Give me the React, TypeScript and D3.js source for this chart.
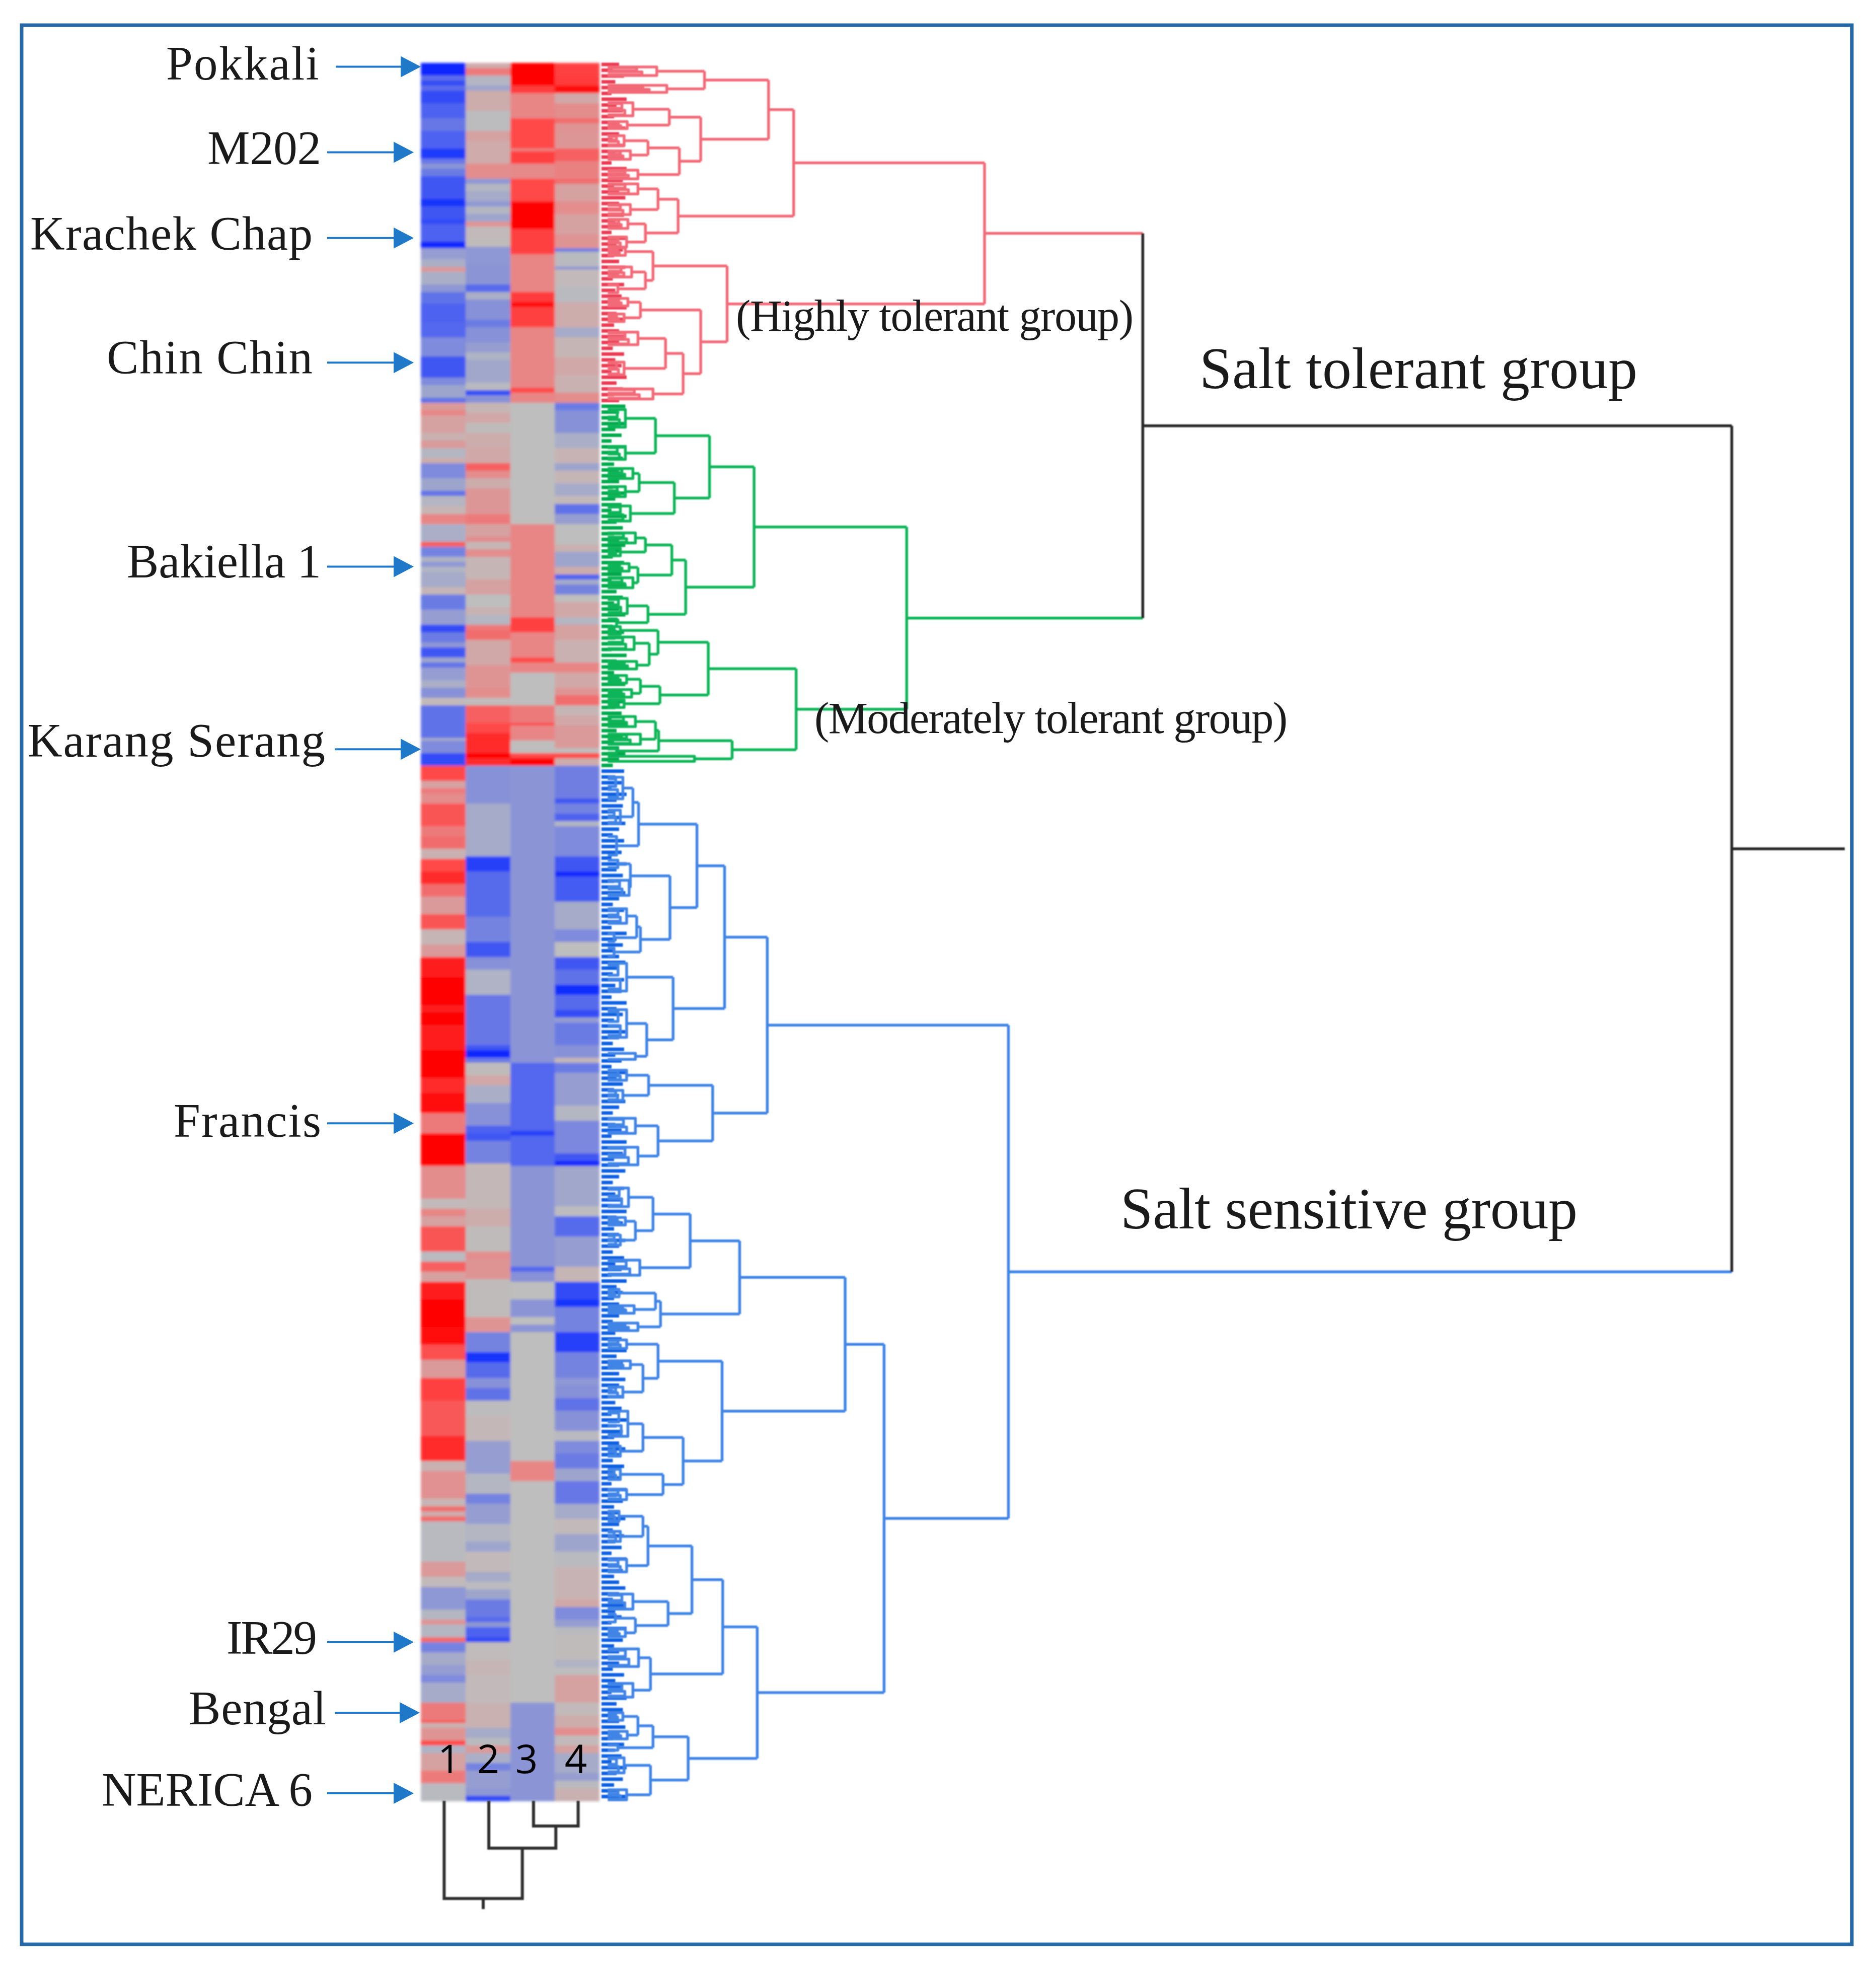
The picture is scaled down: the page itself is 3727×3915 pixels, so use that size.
import * as d3 from "d3";
import React, { useEffect, useRef } from "react";

const WIDTH = 3727;
const HEIGHT = 3915;
const ROW_COUNT = 690;

// heatmap columns: [last row of the run, value from -1 (blue) to 1 (red)]
const column1: [number, number][] = [
  [5, -1], [7, -0.68], [9, -0.85], [11, -0.68], [16, -0.85], [22, -0.75], [27, -0.62], [34, -0.75], [38, -0.92], [40, -0.62], [42, -0.42], [45, -0.6],
  [54, -0.8], [57, -0.95], [62, -0.8], [64, -0.85], [71, -0.75], [73.5, -1], [78, -0.35], [81, -0.2], [83, 0.35], [88, -0.2], [91, -0.4], [95.5, -0.65],
  [103, -0.75], [109, -0.72], [116.5, -0.5], [125, -0.8], [128, -0.5], [133, -0.3], [135, -0.65],
  [138, 0.35], [140, 0.5], [147, 0.3], [150, 0.15], [153, 0.35], [157, -0.1], [159, 0.2], [165, -0.5], [170, -0.3], [172, -0.65], [176, -0.1], [179, 0.1],
  [183, 0.5], [190, -0.2], [192, 0.65], [196, -0.55], [198, -0.15], [200, -0.4], [202, -0.1], [208, -0.25], [211, 0.1], [217, -0.6], [223, -0.35], [226, -0.85],
  [230, -0.6], [232, -0.4], [236, -0.8], [238, -0.3], [240, -0.65], [245, -0.35], [248, -0.2], [252, -0.45], [255, 0.05], [268, -0.65], [269, -0.2], [274, -0.5], [279, -0.85],
  [285, 0.75], [288, 0.3], [290, 0.55], [294, 0.45], [303, 0.7], [307, 0.55], [312, 0.6], [316, 0.15], [321, 0.75], [326, 0.85], [331, 0.6], [338, 0.35],
  [344, 0.7], [350, 0.1], [355, 0.35], [363, 0.9], [374, 1], [377, 0.9], [382, 1], [392, 0.9], [403, 1], [409, 0.85], [417, 0.95], [425, 0.55], [438, 0.98], [451, 0.45], [455, 0.05],
  [458, 0.5], [462, 0.3], [472, 0.7], [476, -0.05], [480, 0.65], [484, 0.3], [491, 0.9], [502, 1], [509, 0.97], [515, 0.72], [522, 0.35], [531, 0.78], [545, 0.68], [555, 0.85],
  [559, 0.15], [570, 0.42], [573, 0.1], [575, 0.6], [577, 0.2], [579, 0.6], [595, -0.05], [601, 0.35], [605, 0.05], [614, -0.4], [618, -0.1], [620, 0.4], [625, -0.1],
  [627, 0.6], [631, -0.55], [636, -0.25], [640, -0.35], [643, -0.5], [651, -0.25], [658, 0.55], [659, 0.7], [661, 0.15], [666, 0.4], [668, 0.75], [671, -0.15], [678, 0.3], [683, 0.55], [690, -0.05],
];

const column2: [number, number][] = [
  [2, 0.2], [5, 0.55], [9, -0.1], [11, -0.3], [19, 0.2], [27, -0.02], [31, 0.3], [40, 0.22], [46, 0.45], [48, -0.4], [51, -0.1], [55, -0.25], [57, -0.4], [60, -0.1],
  [63, -0.3], [65, 0.4], [70, 0.05], [73, 0.03], [80, -0.4], [88, -0.42], [91, -0.7], [94, -0.2], [102, -0.45], [105, -0.6], [111, -0.45], [115, -0.35], [118, -0.15], [127, -0.28], [130, -0.05], [132, -0.85], [135, -0.45],
  [139, 0.1], [143, 0.25], [147, 0.03], [153, 0.2], [159, 0.25], [162, 0.65], [165, 0.45], [169, 0.2], [179, 0.38], [183, 0.55], [188, 0.3], [190, 0.45], [193, 0.1], [196, 0.45],
  [205, 0.1], [211, 0.3], [216, 0], [219, 0.15], [223, -0.1], [225, 0.55], [229, 0.6], [239, 0.25], [248, 0.4], [252, 0.45], [255, 0.02], [262, 0.65], [266, 0.75], [274, 0.85], [276, 1], [279, 0.85],
  [294, -0.45], [315, -0.25], [321, -0.9], [331, -0.7], [339, -0.7], [349, -0.55], [355, -0.8], [360, -0.45], [370, -0.15], [390, -0.62], [392, -0.8], [395, -1], [397, -0.6],
  [402, 0.03], [406, 0.25], [413, -0.2], [422, -0.45], [425, -0.75], [428, -0.8], [437, -0.55], [455, 0.08],
  [462, 0.2], [472, 0.03], [475, 0.45], [483, 0.4], [498, 0.03], [504, 0.4], [512, -0.55], [516, -0.95], [522, -0.7], [526, -0.45], [531, -0.65], [537, -0.02], [547, 0.08], [560, -0.35],
  [568, -0.1], [572, -0.55], [580, -0.35], [587, -0.1], [591, -0.3], [599, 0.05], [603, -0.25], [606, -0.02], [610, -0.3], [617, -0.6], [619, -0.7], [621, -0.4], [625, -0.75],
  [627, -0.85], [634, 0.02], [640, 0.1], [651, 0.05], [661, 0.15], [665, -0.25], [668, -0.05], [671, 0.35], [675, -0.2], [678, -0.55], [685, -0.35], [688, -0.4], [690, -0.85],
];

const column3: [number, number][] = [
  [9, 1], [12, 0.8], [22, 0.5], [34, 0.75], [35, 0.5], [40, 0.78], [46, 0.48], [55, 0.75], [66, 1], [76, 0.78], [91, 0.5], [95, 0.8], [97, 0.95], [105, 0.78], [129, 0.5], [131, 0.75], [135, 0.5],
  [183, 0], [220, 0.5], [226, 0.78], [236, 0.5], [238, 0.75], [242, 0.5], [255, 0], [262, 0.55], [263, 0.75], [269, 0.5], [274, 0], [276, 0.75], [279, 1],
  [397, -0.42], [424, -0.72], [426, -0.9], [438, -0.72], [478, -0.42], [480, -0.72], [484, -0.45], [491, 0], [498, -0.42], [501, 0], [504, -0.42], [555, 0], [563, 0.5], [651, 0], [690, -0.42],
];

const column4: [number, number][] = [
  [5.5, 0.78], [9, 0.8], [12, 0.95], [16, 0.25], [22, 0.45], [24, 0.6], [28, 0.4], [34, 0.38], [39, 0.65], [46, 0.52], [48, 0.6], [55, 0.3], [60, 0.45], [68, 0.3], [73.5, 0.4], [75, -0.6],
  [81, -0.05], [82, -0.45], [89, 0.05], [95, -0.05], [105, 0.2], [109, -0.25], [117, 0.1], [124, 0.25], [131, 0.15], [135, 0.45],
  [138, -0.6], [147, -0.45], [153, -0.2], [159, 0.12], [162, -0.3], [167, 0.1], [172, -0.25], [175, 0.05], [179, -0.65], [183, -0.35], [191, 0], [194, 0.15], [200, -0.3], [203, 0.2], [205, -0.75],
  [207, -0.25], [211, -0.55], [214, 0], [220, 0.25], [223, -0.1], [229, 0.3], [238, 0.15], [242, 0.5], [248, 0.25], [251, 0.4], [255, 0.6], [259, 0.1], [263, 0.25], [272, 0.35], [274, 0.03], [276, 0.75], [279, 0.2],
  [292, -0.58], [294, -0.8], [298, -0.55], [301, -0.75], [303, -0.1], [315, -0.5], [321, -0.8], [323, -1], [333, -0.78], [344, -0.25], [349, -0.5], [355, 0], [360, -0.8], [366, -0.65], [370, -0.98],
  [376, -0.7], [379, -0.85], [381, -0.35], [390, -0.6], [395, -0.45], [397, 0.08], [401, -0.6], [414, -0.35], [420, -0.1], [433, -0.52], [436, -0.8], [438, -1], [454, -0.28], [458, -0.02],
  [466, -0.7], [478, -0.35], [484, 0.1], [491, -0.85], [494, -0.95], [504, -0.55], [512, -0.9], [522, -0.55], [525, -0.4], [530, -0.45], [535, -0.65], [543, -0.45], [547, -0.05], [552, -0.5], [558, -0.6],
  [563, -0.3], [572, -0.62], [578, -0.25], [584, 0.05], [591, -0.3], [597, -0.05], [610, 0.12], [613, 0.25], [618, -0.5], [621, -0.35], [624, -0.05], [634, 0.03], [637, -0.15], [640, 0], [651, 0.3],
  [656, 0.05], [661, 0.2], [664, 0.45], [668, 0.05], [671, 0.3], [679, -0.25], [682, -0.35], [685, -0.05], [690, 0.15],
];

const columnNames = ["1", "2", "3", "4"];
const heatColumns = [column1, column2, column3, column4];

// row dendrogram: [distance, child, child] or a tuft [distance, row, half span]
type Tree = (number | Tree)[];

const redTree: Tree = [303,
  [151,
    [131,
      [80, [42, 3.3, 1.7], [50, 10.3, 1.4]],
      [77,
        [52, [23, 18.4, 2.6], [18.5, 24.7, 1.4]],
        [60, [35, [16, 30.9, 2], [21, 36.6, 1.7]], [27, 44.3, 1.7]]]],
    [59,
      [43, [27, 50, 2], [21, 58.2, 2]],
      [33, [19, 63.9, 1.8], [18, 71.1, 2]]]],
  [98,
    [39, [17, 74.9, 1.5], [33, [22, 83, 2], [11, 89.7, 1.5]]],
    [77,
      [29, [19, 95, 1.5], [16, 101.2, 1.5]],
      [63, [49, [27, 109.4, 2.5], [16, 121.3, 2.5]], [39, 131.4, 2]]]],
];

const greenTree: Tree = [241,
  [119.5,
    [84,
      [41, [17, 141.1, 3.5], [17, 154.9, 2.5]],
      [56, [28, [23, 163, 2], [17, 170.2, 2]], [21, 178.9, 3]]],
    [65,
      [54,
        [33, [25, 188.6, 2], [13, 194.2, 1.5]],
        [27, [20, 200.3, 1.5], [23, 206.4, 2]]],
      [35, [18.5, 215.6, 3], [10, 222.2, 1.5]]]],
  [153,
    [83,
      [43, [13, 225.3, 1.5], [36, [24, 230.4, 2.5], [26, 239.1, 1.5]]],
      [44.5, [29, [18, 244.7, 1.5], [22, 250.3, 1.5]], [16, 254.4, 1.5]]],
    [102,
      [43.5, [41, [25, 261.5, 2], [29, 268.5, 2]], [10, 273.2, 0.8]],
      [72, 276.3, 1]]],
];

const blueTree: Tree = [322,
  [130,
    [96,
      [74,
        [27.5, [23, [15, 287.9, 4.3], [13, 299.3, 2.6]], [10, 310.8, 3.7]],
        [52.5,
          [21, [11, 318, 1.5], [20, 327.5, 3]],
          [29, [26, [18, 338.7, 2.9], [8, 347.3, 1.5]], [8, 353, 1.5]]]],
      [55,
        [18, 363, 5.5],
        [34, [18, 381.4, 5.5], [25, 394.4, 1.2]]]],
    [86.5,
      [35.5, [18, 401.9, 2], [15, 409.9, 2]],
      [43, [25, 422, 3], [27, 434, 3.5]]]],
  [223,
    [192,
      [108,
        [68.6,
          [39, [19.5, 450.4, 3.7], [25, [17, 459.9, 1.5], [13, 467.4, 2]]],
          [28.5, 478.3, 3]],
        [45, [41, [12, 488.4, 1.5], [24, 494.9, 1.5]], [27, 501.8, 1.5]]],
      [94,
        [43, [18, 508.7, 1.7], [31, [21, 516.8, 1.5], [15, 527.7, 2]]],
        [63,
          [31, [19, 540.3, 5], [13, 551.2, 2]],
          [47, [13, 560.4, 2], [18, 568.4, 2]]]]],
    [122,
      [94.5,
        [70,
          [35, [31, [12, 577, 2], [13, 585, 2]], [18, 596.6, 2.5]],
          [51, [23, 610.9, 3], [25, [9, 617.5, 1.5], [17, 623.3, 1.5]]]],
        [37, [27.5, 633.2, 3.5], [23, 646.1, 2.7]]],
      [67,
        [39, [27, [15, 656.5, 1.5], [18.5, 663.9, 1.5]], [11, 668.9, 1]],
        [37, [16, 675.9, 3], [18, 687.6, 2]]]]],
];

const tolerantTree: Tree = [429, redTree, greenTree];
const rootTree: Tree = [898, tolerantTree, blueTree];
const rootTail = 988;

const twigLengths = [12, 7, 16, 9, 14, 6, 18, 10, 15, 8, 12, 17];
const clusterEnds = [135, 279, 690];

// column dendrogram: [distance, left, right], leaves are column names
type ColTree = [number, ColTree | string, ColTree | string];
const columnTree: ColTree = [194, "1", [94, "2", [50, "3", "4"]]];
const columnTail = 215;

const varieties = ["Pokkali", "M202", "Krachek Chap", "Chin Chin", "Bakiella 1", "Karang Serang", "Francis", "IR29", "Bengal", "NERICA 6"];
const varietyRows = [1.5, 35.5, 69.5, 119, 200, 272.5, 421, 627, 655, 687];
const varietyTextEnd = [634, 638, 621, 621, 638, 646, 638, 630, 648, 621];
const varietyTextStart = [330, 412, 60, 212, 252, 55, 345, 450, 375, 202];
const varietyBaseline = [158, 326, 496, 742, 1147, 1503, 2258, 3285, 3425, 3587];
const arrowStart = [667, 650, 650, 650, 650, 665, 650, 650, 665, 650];
const arrowEnd = [836, 822, 822, 822, 822, 836, 822, 822, 834, 822];

const groupLabels = ["Salt tolerant group", "Salt sensitive group", "(Highly tolerant group)", "(Moderately tolerant group)"];
const groupLabelX = [2383, 2226, 1462, 1618];
const groupLabelBaseline = [771, 2440, 657, 1456];
const groupLabelWidth = [870, 908, 790, 940];
const groupLabelSize = [116, 116, 88, 88];

const numberLabelX = [892, 970, 1046, 1144];

const heatColor = d3
  .scaleLinear<string>()
  .domain([-1, -0.75, -0.5, -0.25, 0, 0.25, 0.5, 0.75, 1])
  .range(["#0a28ff", "#4d62f0", "#7f8bdc", "#a5abc9", "#bebebe", "#d1a8a8", "#e88686", "#ff4848", "#ff0000"]);

const SERIF = "'Liberation Serif', serif";

const App: React.FC = () => {
  const svgRef = useRef<SVGSVGElement>(null);

  useEffect(() => {
    if (!svgRef.current) return;
    const svg = d3.select(svgRef.current);
    svg.selectAll("*").remove();

    const defs = svg.append("defs");
    defs.append("filter").attr("id", "heatBlur").append("feGaussianBlur").attr("stdDeviation", 2.6);
    defs.append("filter").attr("id", "lineBlur").append("feGaussianBlur").attr("stdDeviation", 1);

    svg.append("rect").attr("width", WIDTH).attr("height", HEIGHT).attr("fill", "#fff");

    // Frame
    svg
      .append("rect")
      .attr("x", 43)
      .attr("y", 50)
      .attr("width", 3636)
      .attr("height", 3812)
      .attr("fill", "none")
      .attr("stroke", "#2468a8")
      .attr("stroke-width", 7);

    const yRow = d3.scaleLinear().domain([0, ROW_COUNT]).range([125, 3577]);
    const xCol = d3.scaleBand().domain(columnNames).range([836, 1191]);
    const xDist = d3.scaleLinear().domain([0, 990]).range([1200, 3670]);

    // Heatmap
    const heat = svg.append("g").attr("filter", "url(#heatBlur)").attr("shape-rendering", "crispEdges");
    heatColumns.forEach((runs, i) => {
      heat
        .append("g")
        .selectAll("rect")
        .data(runs)
        .join("rect")
        .attr("x", xCol(columnNames[i])!)
        .attr("width", xCol.bandwidth())
        .attr("y", (_, j) => yRow(j === 0 ? 0 : runs[j - 1][0]))
        .attr("height", (d, j) => yRow(d[0]) - yRow(j === 0 ? 0 : runs[j - 1][0]) + 0.5)
        .attr("fill", (d) => heatColor(d[1]));
    });

    // Row dendrogram
    const tree = svg.append("g").attr("filter", "url(#lineBlur)").attr("fill", "none").attr("stroke-linejoin", "round");
    const groupColors = new Map<Tree, string>([
      [redTree, "#f26a78"],
      [greenTree, "#0fb558"],
      [blueTree, "#3f84e6"],
    ]);
    const combColors = ["#ea3b52", "#00a94b", "#0d60e2"];

    // Leaf comb
    const leafRows = d3.range(0.6, ROW_COUNT, 2.3);
    tree
      .append("g")
      .attr("stroke-width", 7)
      .selectAll("line")
      .data(leafRows)
      .join("line")
      .attr("x1", xDist(-2))
      .attr("x2", (_, i) => xDist(twigLengths[i % twigLengths.length]))
      .attr("y1", (d) => yRow(d))
      .attr("y2", (d) => yRow(d))
      .attr("stroke", (d) => combColors[clusterEnds.findIndex((end) => d < end)]);

    const branches = tree.append("g").attr("stroke-width", 5.5);

    const drawTuft = (row: number, half: number, h: number, color: string) => {
      const tuftPath = d3.path();
      tuftPath.moveTo(xDist(3), yRow(row - half));
      tuftPath.lineTo(xDist(h), yRow(row - half));
      tuftPath.lineTo(xDist(h), yRow(row + half));
      tuftPath.lineTo(xDist(3), yRow(row + half));
      branches.append("path").attr("d", tuftPath.toString()).attr("stroke", color);
    };

    const walk = (node: Tree, color: string): { h: number; y: number } => {
      const h = node[0] as number;
      if (typeof node[1] === "number") {
        const row = node[1];
        const half = node[2] as number;
        drawTuft(row, half, h, color);
        // inner loops of the tuft
        if (half >= 1.4 && h > 11) {
          drawTuft(row - half * 0.5, half * 0.35, h * 0.62, color);
          drawTuft(row + half * 0.5, half * 0.35, h * 0.72, color);
        }
        return { h, y: row };
      }
      const kids = (node.slice(1) as Tree[]).map((child) => {
        const childColor = groupColors.get(child) ?? color;
        return { ...walk(child, childColor), color: childColor };
      });
      kids.forEach((k) => {
        branches
          .append("line")
          .attr("x1", xDist(k.h))
          .attr("x2", xDist(h))
          .attr("y1", yRow(k.y))
          .attr("y2", yRow(k.y))
          .attr("stroke", k.color);
      });
      branches
        .append("line")
        .attr("x1", xDist(h))
        .attr("x2", xDist(h))
        .attr("y1", yRow(kids[0].y))
        .attr("y2", yRow(kids[kids.length - 1].y))
        .attr("stroke", color);
      return { h, y: d3.mean(kids, (k) => k.y)! };
    };

    const rootPos = walk(rootTree, "#262626");
    branches
      .append("line")
      .attr("x1", xDist(rootPos.h))
      .attr("x2", xDist(rootTail))
      .attr("y1", yRow(rootPos.y))
      .attr("y2", yRow(rootPos.y))
      .attr("stroke", "#262626");

    // Column dendrogram
    const colDist = d3.scaleLinear().domain([0, columnTail]).range([3577, 3792]);
    const colGroup = svg.append("g").attr("filter", "url(#lineBlur)").attr("stroke", "#2e2e2e").attr("stroke-width", 6).attr("fill", "none");
    const walkCol = (node: ColTree | string): { x: number; h: number } => {
      if (typeof node === "string") return { x: xCol(node)! + xCol.bandwidth() / 2 + 2, h: 0 };
      const left = walkCol(node[1]);
      const right = walkCol(node[2]);
      const colPath = d3.path();
      colPath.moveTo(left.x, colDist(left.h));
      colPath.lineTo(left.x, colDist(node[0]));
      colPath.lineTo(right.x, colDist(node[0]));
      colPath.lineTo(right.x, colDist(right.h));
      colGroup.append("path").attr("d", colPath.toString());
      return { x: (left.x + right.x) / 2, h: node[0] };
    };
    const colRoot = walkCol(columnTree);
    colGroup
      .append("line")
      .attr("x1", colRoot.x)
      .attr("x2", colRoot.x)
      .attr("y1", colDist(colRoot.h))
      .attr("y2", colDist(columnTail));

    // Column numbers
    svg
      .append("g")
      .selectAll("text")
      .data(columnNames)
      .join("text")
      .attr("x", (_, i) => numberLabelX[i])
      .attr("y", 3522)
      .attr("text-anchor", "middle")
      .attr("fill", "#000")
      .style("font-family", "'Open Sans', sans-serif")
      .style("font-size", "78px")
      .text((d) => d);

    // Variety labels and arrows
    const arrowColor = "#1f78c8";
    const labels = svg.append("g");
    varieties.forEach((name, i) => {
      const y = yRow(varietyRows[i]);
      labels
        .append("text")
        .attr("x", varietyTextStart[i])
        .attr("y", varietyBaseline[i])
        .attr("textLength", varietyTextEnd[i] - varietyTextStart[i])
        .attr("lengthAdjust", "spacing")
        .attr("fill", "#1a1a1a")
        .style("font-family", SERIF)
        .style("font-size", "95px")
        .text(name);
      labels
        .append("line")
        .attr("x1", arrowStart[i])
        .attr("x2", arrowEnd[i] - 30)
        .attr("y1", y)
        .attr("y2", y)
        .attr("stroke", arrowColor)
        .attr("stroke-width", 4);
      labels
        .append("path")
        .attr("d", d3.line()([[arrowEnd[i] - 40, y - 21], [arrowEnd[i], y], [arrowEnd[i] - 40, y + 21]])! + "Z")
        .attr("fill", arrowColor);
    });

    // Group labels
    svg
      .append("g")
      .selectAll("text")
      .data(groupLabels)
      .join("text")
      .attr("x", (_, i) => groupLabelX[i])
      .attr("y", (_, i) => groupLabelBaseline[i])
      .attr("textLength", (_, i) => groupLabelWidth[i])
      .attr("lengthAdjust", "spacing")
      .attr("fill", "#1a1a1a")
      .style("font-family", SERIF)
      .style("font-size", (_, i) => `${groupLabelSize[i]}px`)
      .text((d) => d);
  }, []);

  return <svg ref={svgRef} width={WIDTH} height={HEIGHT} style={{ position: "absolute", left: 0, top: 0 }} />;
};

export default App;
